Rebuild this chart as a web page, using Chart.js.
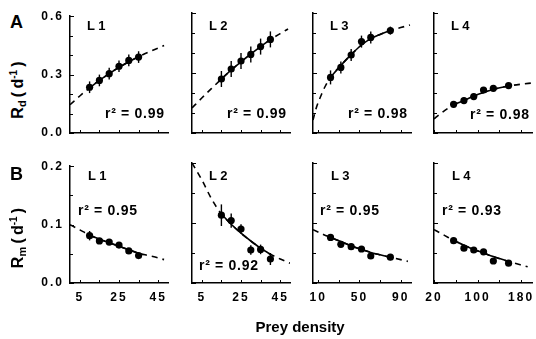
<!DOCTYPE html>
<html><head><meta charset="utf-8">
<script src="https://cdn.jsdelivr.net/npm/chart.js@4/dist/chart.umd.min.js"></script>
<style>
html,body{margin:0;padding:0;background:#fff}
body{width:536px;height:339px;position:relative;overflow:hidden;font-family:"Liberation Sans",Arial,sans-serif;color:#000}
canvas{position:absolute}
.t{position:absolute;white-space:nowrap;font-weight:bold;line-height:1}
.lab{font-size:13px;transform:translateY(-50%)}
.r2{font-size:14px;letter-spacing:0.7px;transform:translateY(-50%)}
.big{font-size:18px}
.yt{font-size:16px;width:90px;height:24px;line-height:24px;text-align:center;transform:rotate(-90deg);transform-origin:center center}
.yt sub{font-size:11px;vertical-align:-3px;line-height:0}
.yt sup{font-size:10px;vertical-align:6px;line-height:0}
</style></head><body>
<script>
// ---------- DATA ----------
const panelNames = ['L 1','L 2','L 3','L 4'];
const r2Rd = ['0.99','0.99','0.98','0.98'];
const r2Rm = ['0.95','0.92','0.95','0.93'];

// prey density of measured points
const preyL1 = [10,15,20,25,30,35];
const preyL2 = [15,20,25,30,35,40];
const preyL3 = [22,32,42,52,61,80];
const preyL4 = [56,75,93,111,129,157];

// Rd (d-1) measured + error
const rdL1 = [0.235,0.27,0.305,0.343,0.373,0.39];
const rdL2 = [0.27,0.32,0.36,0.393,0.432,0.468];
const rdL3 = [0.278,0.328,0.39,0.457,0.478,0.512];
const rdL4 = [0.1435,0.162,0.182,0.215,0.2235,0.237];
const rdErrL1 = [0.03,0.03,0.03,0.03,0.03,0.03];
const rdErrL2 = [0.04,0.04,0.04,0.04,0.04,0.04];
const rdErrL3 = [0.035,0.03,0.03,0.03,0.03,0.02];
const rdErrL4 = [0.015,0.015,0.015,0.015,0.012,0.012];

// Rm (d-1) measured + error
const rmL1 = [0.081,0.072,0.070,0.065,0.055,0.047];
const rmL2 = [0.113,0.104,0.090,0.055,0.056,0.040];
const rmL3 = [0.076,0.0645,0.0605,0.0567,0.045,0.043];
const rmL4 = [0.0705,0.058,0.055,0.052,0.0367,0.033];
const rmErrL1 = [0.008,0.005,0.005,0.005,0.004,0.004];
const rmErrL2 = [0.018,0.012,0.008,0.008,0.008,0.01];
const rmErrL3 = [0.005,0.005,0.005,0.005,0.005,0.005];
const rmErrL4 = [0.004,0.004,0.004,0.004,0.004,0.004];

// fitted curves
const fitRdL1X = [0,5,10,15,20,25,30,35,40,45,48];
const fitRdL1Y = [0.145,0.19,0.232,0.27,0.305,0.337,0.366,0.392,0.415,0.436,0.449];
const fitRdL2X = [0,5,10,15,20,25,30,35,40,45,49];
const fitRdL2Y = [0.125,0.175,0.223,0.27,0.315,0.356,0.395,0.432,0.467,0.497,0.52];
const fitRdL3X = [5,8,13,17,22,32,42,52,61,70,80,90,99];
const fitRdL3Y = [0.065,0.123,0.19,0.235,0.278,0.338,0.392,0.44,0.472,0.493,0.512,0.527,0.54];
const fitRdL4X = [20,30,40,56,75,93,111,129,157,180,200];
const fitRdL4Y = [0.07,0.093,0.113,0.142,0.163,0.185,0.203,0.218,0.235,0.244,0.25];
const fitRmL1X = [0,5,10,15,20,25,30,35,40,45,48];
const fitRmL1Y = [0.1,0.091,0.082,0.075,0.069,0.063,0.057,0.051,0.047,0.043,0.04];
const fitRmL2X = [0,5,10,15,20,25,30,35,40,45,50];
const fitRmL2Y = [0.2,0.172,0.14,0.115,0.098,0.083,0.07,0.058,0.048,0.04,0.033];
const fitRmL3X = [5,15,22,32,42,52,61,70,80,90,97];
const fitRmL3Y = [0.089,0.081,0.076,0.069,0.062,0.056,0.051,0.047,0.043,0.039,0.036];
const fitRmL4X = [20,40,56,75,93,111,129,157,180,192];
const fitRmL4Y = [0.089,0.079,0.071,0.063,0.056,0.05,0.044,0.036,0.03,0.027];

// axes
const xMin = [0,0,5,20];
const xMax = [50,50,100,200];
const xTickVals = [[5,15,25,35,45],[5,15,25,35,45],[10,30,50,70,90],[20,60,100,140,180]];
const xTickLabels = [[5,25,45],[5,25,45],[10,50,90],[20,100,180]];
const rdMax = 0.6, rmMax = 0.2;
const rdTickVals = [0,0.1,0.2,0.3,0.4,0.5,0.6];
const rdTickLabels = [0,0.3,0.6];
const rmTickVals = [0,0.05,0.1,0.15,0.2];
const rmTickLabels = [0,0.1,0.2];

// ---------- LAYOUT ----------
const plotLeft = [70,192,313,434];
const plotTop = [13,163];
const plotW = 98, plotH = 120;
const padL = 40, padT = 10, padR = 8, padB = 28;
const FONT = '"Liberation Sans", Arial, sans-serif';

const prey = [preyL1,preyL2,preyL3,preyL4];
const rows = [
  {vals:[rdL1,rdL2,rdL3,rdL4], errs:[rdErrL1,rdErrL2,rdErrL3,rdErrL4],
   fx:[fitRdL1X,fitRdL2X,fitRdL3X,fitRdL4X], fy:[fitRdL1Y,fitRdL2Y,fitRdL3Y,fitRdL4Y],
   max:rdMax, tv:rdTickVals, tl:rdTickLabels},
  {vals:[rmL1,rmL2,rmL3,rmL4], errs:[rmErrL1,rmErrL2,rmErrL3,rmErrL4],
   fx:[fitRmL1X,fitRmL2X,fitRmL3X,fitRmL4X], fy:[fitRmL1Y,fitRmL2Y,fitRmL3Y,fitRmL4Y],
   max:rmMax, tv:rmTickVals, tl:rmTickLabels}
];

const extras = {
  id:'extras',
  beforeDraw(chart){ chart.ctx.letterSpacing = '2px'; },
  afterDatasetsDraw(chart){
    const o = chart.options.plugins.extras;
    const ctx = chart.ctx, xs = chart.scales.x, ys = chart.scales.y;
    ctx.save();
    ctx.strokeStyle = '#000'; ctx.lineWidth = 1.4;
    const pts = chart.data.datasets[2].data;
    pts.forEach((p,i)=>{
      const px = xs.getPixelForValue(p.x);
      ctx.beginPath();
      ctx.moveTo(px, ys.getPixelForValue(p.y - o.err[i]));
      ctx.lineTo(px, ys.getPixelForValue(p.y + o.err[i]));
      ctx.stroke();
    });
    ctx.restore();
  },
  afterDraw(chart){
    const o = chart.options.plugins.extras;
    const ctx = chart.ctx, xs = chart.scales.x, ys = chart.scales.y, ca = chart.chartArea;
    ctx.save();
    ctx.strokeStyle = '#000'; ctx.lineWidth = 1;
    o.xt.forEach(v=>{
      const px = Math.round(xs.getPixelForValue(v)) + 0.5;
      ctx.beginPath(); ctx.moveTo(px, ca.bottom); ctx.lineTo(px, ca.bottom - 3); ctx.stroke();
    });
    o.yt.forEach(v=>{
      const py = Math.round(ys.getPixelForValue(v)) + 0.5;
      const len = o.ymaj.includes(v) ? 4 : 3;
      ctx.beginPath(); ctx.moveTo(ca.left, py); ctx.lineTo(ca.left + len, py); ctx.stroke();
    });
    ctx.restore();
  }
};

function addText(html, cls, left, top, extraStyle){
  const d = document.createElement('div');
  d.className = 't ' + cls;
  d.innerHTML = html;
  d.style.left = left + 'px';
  d.style.top = top + 'px';
  if (extraStyle) d.style.cssText += extraStyle;
  document.body.appendChild(d);
  return d;
}

for (let r = 0; r < 2; r++) {
  const R = rows[r];
  for (let c = 0; c < 4; c++) {
    const cv = document.createElement('canvas');
    const w = plotW + padL + padR, h = plotH + padT + padB;
    cv.width = w; cv.height = h;
    cv.style.left = (plotLeft[c] - padL) + 'px';
    cv.style.top = (plotTop[r] - padT) + 'px';
    cv.style.width = w + 'px'; cv.style.height = h + 'px';
    document.body.appendChild(cv);

    const xs = prey[c], ys = R.vals[c];
    const pts = xs.map((x,i)=>({x, y: ys[i]}));
    const fit = R.fx[c].map((x,i)=>({x, y: R.fy[c][i]}));
    const lo = xs[0], hi = xs[xs.length-1];
    const solid = fit.filter(p => p.x >= lo && p.x <= hi);

    const xt = xTickVals[c], xl = xTickLabels[c];
    new Chart(cv.getContext('2d'), {
      type: 'scatter',
      data: { datasets: [
        { data: fit, showLine: true, borderColor:'#000', borderWidth:1.6, borderDash:[6,5],
          pointRadius:0, fill:false, cubicInterpolationMode:'monotone' },
        { data: solid, showLine: true, borderColor:'#000', borderWidth:1.6,
          pointRadius:0, fill:false, cubicInterpolationMode:'monotone' },
        { data: pts, showLine: false, pointRadius:3.6, pointBackgroundColor:'#000',
          pointBorderColor:'#000', pointBorderWidth:0 }
      ]},
      options: {
        responsive:false, animation:false, devicePixelRatio:1, events:[],
        layout:{ padding:{ left:0, top:padT, right:padR, bottom:0 } },
        plugins:{ legend:{display:false}, tooltip:{enabled:false},
          extras:{ err: R.errs[c], xt: xt, yt: R.tv, ymaj: R.tl } },
        scales:{
          x:{ type:'linear', min:xMin[c], max:xMax[c],
            afterBuildTicks: s => { s.ticks = xt.map(v=>({value:v})); },
            afterFit: s => { s.height = padB; },
            grid:{ display:false, drawTicks:false },
            border:{ display:true, color:'#000', width:1.5 },
            ticks:{ display: r === 1, autoSkip:false, maxRotation:0, padding:7, color:'#000',
              font:{ family:FONT, size:12, weight:'bold' },
              callback: v => xl.includes(v) ? String(v) : '' } },
          y:{ type:'linear', min:0, max:R.max,
            afterBuildTicks: s => { s.ticks = R.tl.map(v=>({value:v})); },
            afterFit: s => { s.width = padL; },
            grid:{ display:false, drawTicks:false },
            border:{ display:true, color:'#000', width:1.5 },
            ticks:{ display: c === 0, autoSkip:false, padding:6, color:'#000',
              font:{ family:FONT, size:12, weight:'bold' },
              callback: v => v.toFixed(1) } }
        }
      },
      plugins:[extras]
    });
  }
}

// panel texts
const labA = [[87,25],[209,25],[330,25],[451,25]];
const labB = [[88,175],[209,175],[331,175],[452,175]];
const r2A = [[105,113],[227,113],[348,113],[470,114]];
const r2B = [[78,210],[199,265],[320,210],[442,210]];
for (let c = 0; c < 4; c++) {
  addText(panelNames[c], 'lab', labA[c][0], labA[c][1]);
  addText(panelNames[c], 'lab', labB[c][0], labB[c][1]);
  addText('r² = ' + r2Rd[c], 'r2', r2A[c][0], r2A[c][1]);
  addText('r² = ' + r2Rm[c], 'r2', r2B[c][0], r2B[c][1]);
}
addText('A', 'big', 10, 13);
addText('B', 'big', 10, 165);
// rotated y titles: fixed 90x24 box centred on (cx, cy)
addText('R<sub>d</sub>&thinsp;(&thinsp;d<sup>-1</sup>&thinsp;)', 'yt', 18 - 45, 90 - 12);
addText('R<sub>m</sub>&thinsp;(&thinsp;d<sup>-1</sup>&thinsp;)', 'yt', 18 - 45, 238 - 12);
const xt = addText('Prey density', '', 0, 319, 'font-size:15px;');
xt.style.left = (300 - xt.offsetWidth/2) + 'px';
</script>
</body></html>
